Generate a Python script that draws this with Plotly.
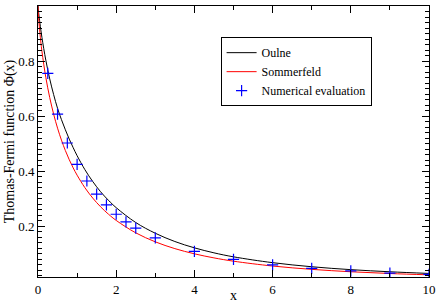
import plotly.graph_objects as go

# Curve samples
x_curve = [0, 0.01, 0.02, 0.05, 0.1, 0.2, 0.3, 0.4, 0.5, 0.6, 0.7, 0.8, 0.9, 1.0,
           1.2, 1.4, 1.6, 1.8, 2.0, 2.5, 3.0, 3.5, 4.0, 4.5, 5, 6, 7, 8, 9, 10]
oulne = [1.0, 0.986, 0.972, 0.937, 0.886, 0.803, 0.735, 0.678, 0.628, 0.587, 0.550,
         0.516, 0.485, 0.456, 0.405, 0.362, 0.325, 0.294, 0.267, 0.213, 0.174, 0.144,
         0.121, 0.1028, 0.0883, 0.0671, 0.0523, 0.0417, 0.0340, 0.0279]
sommerfeld = [1.0, 0.970, 0.949, 0.900, 0.836, 0.7405, 0.667, 0.607, 0.556, 0.5125,
              0.4746, 0.4411, 0.4115, 0.3851, 0.3395, 0.3019, 0.2703, 0.2436, 0.2206,
              0.1755, 0.1428, 0.1182, 0.0993, 0.0845, 0.0725, 0.0549, 0.0428, 0.0341,
              0.0276, 0.0228]

# Numerical evaluation points
x_num = [0.25, 0.5, 0.75, 1.0, 1.25, 1.5, 1.75, 2.0, 2.25, 2.5, 3, 4, 5, 6, 7, 8, 9, 10]
y_num = [0.755, 0.607, 0.502, 0.424, 0.364, 0.316, 0.277, 0.243, 0.215, 0.193,
         0.157, 0.108, 0.079, 0.059, 0.046, 0.037, 0.029, 0.0243]

FONT = "Liberation Serif"

fig = go.Figure()
fig.add_trace(go.Scatter(x=x_curve, y=oulne, mode="lines", name="Oulne",
                         line=dict(color="black", width=1, shape="spline")))
fig.add_trace(go.Scatter(x=x_curve, y=sommerfeld, mode="lines", name="Sommerfeld",
                         line=dict(color="#ff0000", width=1, shape="spline")))
fig.add_trace(go.Scatter(x=x_num, y=y_num, mode="markers", name="Numerical evaluation",
                         marker=dict(symbol="cross-thin", size=8, color="#0000ff",
                                     line=dict(color="#0000ff", width=1.2))))

axis_common = dict(showline=True, linecolor="black", linewidth=1, mirror="ticks",
                   ticks="inside", ticklen=7, tickwidth=1, tickcolor="black",
                   showgrid=False, zeroline=False, automargin=False,
                   tickfont=dict(family=FONT, size=13, color="black"))

fig.update_xaxes(range=[0, 10], tick0=0, dtick=2,
                 minor=dict(ticks="inside", ticklen=4, dtick=1, tick0=0, tickcolor="black"),
                 title=dict(text="x", font=dict(family=FONT, size=14, color="black"), standoff=0),
                 **axis_common)
fig.update_yaxes(range=[0.015, 1.0], tickvals=[0.2, 0.4, 0.6, 0.8, 1.0],
                 ticktext=["0.2", "0.4", "0.6", "0.8", "1"],
                 minor=dict(ticks="inside", ticklen=4, dtick=0.02, tick0=0, tickcolor="black"),
                 title=dict(text="Thomas-Fermi function Φ(x)",
                            font=dict(family=FONT, size=14, color="black"), standoff=0),
                 **axis_common)

fig.update_layout(
    width=436, height=303,
    margin=dict(l=38, r=7, t=6, b=26),
    paper_bgcolor="white", plot_bgcolor="white",
    font=dict(family=FONT, color="black"),
    showlegend=True,
    legend=dict(x=0.467, y=0.885, xanchor="left", yanchor="top",
                bgcolor="white", bordercolor="black", borderwidth=1,
                font=dict(family=FONT, size=12, color="black"),
                itemwidth=30, tracegroupgap=0),
)

fig.write_html("out.html", config={"displayModeBar": False},
               post_script="document.body.style.margin='0';document.body.style.padding='0';")
